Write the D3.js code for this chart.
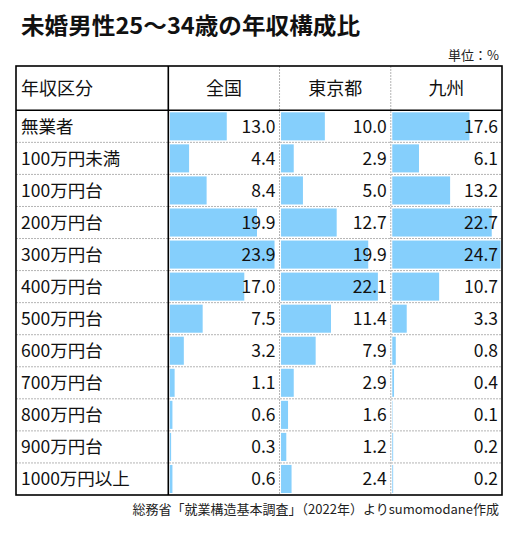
<!DOCTYPE html>
<html>
<head>
<meta charset="utf-8">
<script src="https://cdn.jsdelivr.net/npm/d3@7"></script>
<style>
  body { margin: 0; background: #fff; }
  svg { display: block; font-family: "Noto Sans CJK JP", "Noto Sans", sans-serif; }
</style>
</head>
<body>
<svg id="chart"></svg>
<script>
// data
const categories = ["無業者", "100万円未満", "100万円台", "200万円台", "300万円台", "400万円台",
    "500万円台", "600万円台", "700万円台", "800万円台", "900万円台", "1000万円以上"];
const regions = ["全国", "東京都", "九州"];
const zenkoku = [13.0, 4.4, 8.4, 19.9, 23.9, 17.0, 7.5, 3.2, 1.1, 0.6, 0.3, 0.6];
const tokyo = [10.0, 2.9, 5.0, 12.7, 19.9, 22.1, 11.4, 7.9, 2.9, 1.6, 1.2, 2.4];
const kyushu = [17.6, 6.1, 13.2, 22.7, 24.7, 10.7, 3.3, 0.8, 0.4, 0.1, 0.2, 0.2];
const series = [zenkoku, tokyo, kyushu];

const width = 530, height = 537;
const tLeft = 16, tRight = 502, tTop = 66, headBottom = 110.3, tBottom = 495;
const labelRight = 168.3;

const svg = d3.select("#chart")
    .attr("width", width)
    .attr("height", height);

svg.append("text")
    .attr("x", 21)
    .attr("y", 34)
    .attr("font-size", 22.5)
    .attr("font-weight", "bold")
    .attr("fill", "#111")
    .attr("textLength", 339)
    .attr("lengthAdjust", "spacingAndGlyphs")
    .text("未婚男性25～34歳の年収構成比");

svg.append("text")
    .attr("x", 499)
    .attr("y", 60)
    .attr("text-anchor", "end")
    .attr("font-size", 13)
    .attr("fill", "#222")
    .text("単位：%");

const y = d3.scaleBand()
    .domain(categories)
    .range([headBottom, tBottom]);

const col = d3.scaleBand()
    .domain(regions)
    .range([labelRight, tRight]);

const x = d3.scaleLinear()
    .domain([0, d3.max(series.flat())])
    .range([0, col.bandwidth() - 3]);

// bars and values
regions.forEach((r, ci) => {
    const g = svg.append("g")
        .attr("transform", `translate(${col(r)},0)`);

    g.selectAll("rect")
        .data(series[ci])
        .enter()
        .append("rect")
        .attr("x", 1.5)
        .attr("y", (d, i) => y(categories[i]) + 2)
        .attr("height", y.bandwidth() - 4)
        .attr("width", d => x(d))
        .attr("fill", "#85CFFC");

    g.selectAll("text.val")
        .data(series[ci])
        .enter()
        .append("text")
        .attr("class", "val")
        .attr("x", col.bandwidth() - 4)
        .attr("y", (d, i) => y(categories[i]) + y.bandwidth() / 2)
        .attr("dy", "0.36em")
        .attr("text-anchor", "end")
        .attr("font-size", 17.5)
        .attr("fill", "#111")
        .text(d => d.toFixed(1));

    svg.append("text")
        .attr("x", col(r) + col.bandwidth() / 2)
        .attr("y", (tTop + headBottom) / 2)
        .attr("dy", "0.36em")
        .attr("text-anchor", "middle")
        .attr("font-size", 18)
        .attr("fill", "#111")
        .text(r);
});

// row labels
svg.selectAll("text.cat")
    .data(categories)
    .enter()
    .append("text")
    .attr("class", "cat")
    .attr("x", 21)
    .attr("y", d => y(d) + y.bandwidth() / 2)
    .attr("dy", "0.36em")
    .attr("font-size", 17.5)
    .attr("fill", "#111")
    .text(d => d);

svg.append("text")
    .attr("x", 21)
    .attr("y", (tTop + headBottom) / 2)
    .attr("dy", "0.36em")
    .attr("font-size", 18)
    .attr("fill", "#111")
    .text("年収区分");

// grid lines
svg.selectAll("line.row")
    .data(categories.slice(1))
    .enter()
    .append("line")
    .attr("class", "row")
    .attr("x1", tLeft)
    .attr("x2", tRight)
    .attr("y1", d => y(d))
    .attr("y2", d => y(d))
    .attr("stroke", "#b4b4b4")
    .attr("stroke-dasharray", "2,1");

svg.selectAll("line.col")
    .data(regions.slice(1))
    .enter()
    .append("line")
    .attr("class", "col")
    .attr("x1", d => col(d))
    .attr("x2", d => col(d))
    .attr("y1", tTop)
    .attr("y2", tBottom)
    .attr("stroke", "#b4b4b4")
    .attr("stroke-dasharray", "2,1");

svg.append("line")
    .attr("x1", tLeft).attr("x2", tRight)
    .attr("y1", headBottom).attr("y2", headBottom)
    .attr("stroke", "#000").attr("stroke-width", 1.6);

svg.append("line")
    .attr("x1", labelRight).attr("x2", labelRight)
    .attr("y1", tTop).attr("y2", tBottom)
    .attr("stroke", "#000").attr("stroke-width", 1.6);

svg.append("rect")
    .attr("x", tLeft).attr("y", tTop)
    .attr("width", tRight - tLeft).attr("height", tBottom - tTop)
    .attr("fill", "none")
    .attr("stroke", "#000").attr("stroke-width", 1.6);

svg.append("text")
    .attr("x", 499)
    .attr("y", 514)
    .attr("text-anchor", "end")
    .attr("font-size", 13)
    .attr("fill", "#222")
    .text("総務省「就業構造基本調査」（2022年）よりsumomodane作成");
</script>
</body>
</html>
